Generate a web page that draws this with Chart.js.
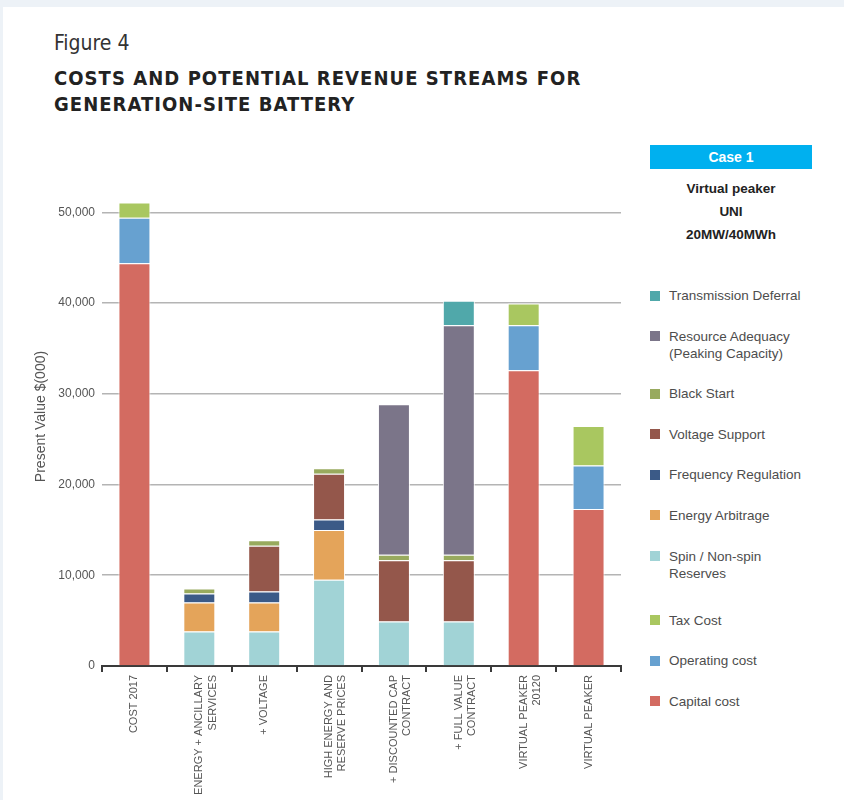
<!DOCTYPE html>
<html>
<head>
<meta charset="utf-8">
<script src="https://cdn.jsdelivr.net/npm/chart.js@4"></script>
<style>
  html, body { margin: 0; padding: 0; }
  body { width: 844px; height: 800px; background: #edf2f7; position: relative; overflow: hidden; font-family: "Liberation Sans", Arial, sans-serif; }
  #sheet { position: absolute; left: 3px; top: 7px; right: 0; bottom: 0; background: #fff; }
  #fig { position: absolute; left: 54px; top: 31px; font-family: "Liberation Sans Narrow", "DejaVu Sans Condensed", sans-serif; font-size: 21px; color: #333; }
  #heading { position: absolute; left: 54px; top: 65px; font-family: "Liberation Sans Narrow", "DejaVu Sans Condensed", sans-serif; font-weight: bold; font-size: 20px; line-height: 26px; letter-spacing: 1.05px; color: #222; }
  #case { position: absolute; left: 650px; top: 145px; width: 162px; height: 24px; background: #00b0ef; color: #fff; font-weight: bold; font-size: 14px; line-height: 24px; text-align: center; }
  #caseinfo { position: absolute; left: 650px; top: 177px; width: 162px; text-align: center; font-weight: bold; font-size: 13.5px; line-height: 23px; color: #222; }
  #chart-wrap { position: absolute; left: 0; top: 0; width: 640px; height: 800px; }
  #legend { position: absolute; left: 650px; top: 287px; margin: 0; padding: 0; list-style: none; }
  #legend li { display: flex; align-items: flex-start; margin-bottom: 23.6px; font-size: 13.5px; line-height: 17px; color: #4d4d4d; white-space: pre-line; }
  #legend li.gap { padding-top: 6.5px; }
  #legend li span.sw { width: 10px; height: 10px; margin-top: 3.5px; margin-right: 9px; flex: none; }
</style>
</head>
<body>
<div id="sheet"></div>
<div id="fig">Figure 4</div>
<div id="heading">COSTS AND POTENTIAL REVENUE STREAMS FOR<br>GENERATION-SITE BATTERY</div>
<div id="case">Case 1</div>
<div id="caseinfo">Virtual peaker<br>UNI<br>20MW/40MWh</div>
<div id="chart-wrap"><canvas id="c" width="640" height="800"></canvas></div>
<ul id="legend"></ul>
<script>
// Scenario labels along the x axis (multi-line where the label wraps)
const categories = [
  ['COST 2017'],
  ['ENERGY + ANCILLARY', 'SERVICES'],
  ['+ VOLTAGE'],
  ['HIGH ENERGY AND', 'RESERVE PRICES'],
  ['+ DISCOUNTED CAP', 'CONTRACT'],
  ['+ FULL VALUE', 'CONTRACT'],
  ['VIRTUAL PEAKER', '20120'],
  ['VIRTUAL PEAKER']
];

// Present value, $(000), per cost / revenue component
const capitalCost        = [44400, null, null, null, null, null, 32600, 17300];
const operatingCost      = [5000, null, null, null, null, null, 4950, 4800];
const taxCost            = [1700, null, null, null, null, null, 2400, 4350];
const spinReserves       = [null, 3800, 3800, 9500, 4900, 4900, null, null];
const energyArbitrage    = [null, 3200, 3200, 5500, null, null, null, null];
const frequencyReg       = [null, 1000, 1200, 1150, null, null, null, null];
const voltageSupport     = [null, null, 5050, 5050, 6750, 6750, null, null];
const blackStart         = [null, 550, 600, 600, 600, 600, null, null];
const resourceAdequacy   = [null, null, null, null, 16600, 25300, null, null];
const transmissionDefer  = [null, null, null, null, null, 2700, null, null];

// y axis ticks
const yTicks = [0, 10000, 20000, 30000, 40000, 50000];

// Stack order, bottom to top
const series = [
  { label: 'Capital cost', data: capitalCost, color: '#d36b61', group: 'cost' },
  { label: 'Operating cost', data: operatingCost, color: '#67a1d0', group: 'cost' },
  { label: 'Tax Cost', data: taxCost, color: '#a9c760', group: 'cost' },
  { label: 'Spin / Non-spin\nReserves', data: spinReserves, color: '#a1d3d6', group: 'revenue' },
  { label: 'Energy Arbitrage', data: energyArbitrage, color: '#e4a45a', group: 'revenue' },
  { label: 'Frequency Regulation', data: frequencyReg, color: '#3b5a87', group: 'revenue' },
  { label: 'Voltage Support', data: voltageSupport, color: '#94574b', group: 'revenue' },
  { label: 'Black Start', data: blackStart, color: '#98aa5e', group: 'revenue' },
  { label: 'Resource Adequacy\n(Peaking Capacity)', data: resourceAdequacy, color: '#7b7589', group: 'revenue' },
  { label: 'Transmission Deferral', data: transmissionDefer, color: '#50a8aa', group: 'revenue' }
];

// Legend list on the right, built from the chart's datasets (top of stack first)
const htmlLegend = {
  id: 'htmlLegend',
  afterUpdate(chart) {
    const ul = document.getElementById('legend');
    ul.innerHTML = '';
    const ds = chart.data.datasets.slice().reverse();
    let prevGroup = null;
    ds.forEach(d => {
      const li = document.createElement('li');
      if (prevGroup && d.group !== prevGroup) li.className = 'gap';
      prevGroup = d.group;
      const sw = document.createElement('span');
      sw.className = 'sw';
      sw.style.background = d.backgroundColor;
      li.appendChild(sw);
      li.appendChild(document.createTextNode(d.label));
      ul.appendChild(li);
    });
  }
};

new Chart(document.getElementById('c'), {
  type: 'bar',
  data: {
    labels: categories,
    datasets: series.map(s => ({
      label: s.label,
      data: s.data,
      group: s.group,
      backgroundColor: s.color,
      borderColor: 'rgba(255,255,255,0.95)',
      borderWidth: 1,
      categoryPercentage: 1,
      barPercentage: 0.493
    }))
  },
  options: {
    responsive: false,
    animation: false,
    layout: { padding: { top: 167, right: 19, bottom: 0, left: 0 } },
    plugins: { legend: { display: false }, tooltip: { enabled: false } },
    scales: {
      x: {
        stacked: true,
        offset: true,
        afterFit(scale) { scale.height = 134; },
        grid: { offset: true, drawOnChartArea: false, drawTicks: true, tickLength: 6, color: '#3a3a3a', lineWidth: 2 },
        border: { display: true, color: '#3a3a3a', width: 2 },
        ticks: {
          autoSkip: false, minRotation: 90, maxRotation: 90, padding: 3,
          color: '#555', font: { family: '"Liberation Sans", Arial, sans-serif', size: 11 }
        }
      },
      y: {
        stacked: true,
        min: 0,
        max: 55000,
        afterFit(scale) { scale.width = 102; },
        afterBuildTicks(scale) { scale.ticks = yTicks.map(v => ({ value: v })); },
        grid: { drawTicks: false, color: '#b4b4b4', lineWidth: 1.6 },
        border: { display: false },
        ticks: {
          padding: 7, color: '#555',
          font: { family: '"Liberation Sans", Arial, sans-serif', size: 12 }
        },
        title: {
          display: true, text: 'Present Value $(000)', color: '#555',
          font: { family: '"Liberation Sans", Arial, sans-serif', size: 14 },
          padding: { top: 33, bottom: 0 }
        }
      }
    }
  },
  plugins: [htmlLegend]
});
</script>
</body>
</html>
